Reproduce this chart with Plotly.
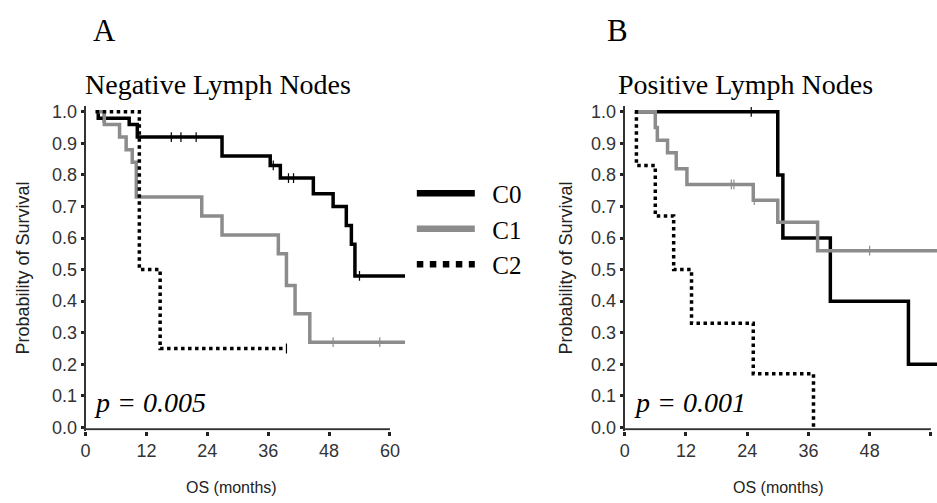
import plotly.graph_objects as go

W, H = 937, 503

# panel A: negative lymph nodes (months, survival)
a_c0_t = [2, 2.5, 8.6, 10.2, 26.9, 36.4, 38.4, 44.9, 48.8, 51.4, 52.4, 53.1, 63]
a_c0_s = [1.0, 0.98, 0.96, 0.92, 0.86, 0.83, 0.79, 0.74, 0.70, 0.64, 0.58, 0.48, 0.48]
a_c1_t = [2, 3.7, 6.7, 8.0, 9.2, 10.0, 22.9, 26.9, 38.0, 39.6, 41.3, 44.2, 63]
a_c1_s = [1.0, 0.96, 0.92, 0.88, 0.84, 0.73, 0.67, 0.61, 0.55, 0.45, 0.36, 0.27, 0.27]
a_c2_t = [2, 10.6, 14.7, 39.6]
a_c2_s = [1.0, 0.50, 0.25, 0.25]
a_c0_cens = [3.5, 16.9, 18.8, 21.8, 37.0, 40.0, 41.0, 54.0]
a_c1_cens = [48.8, 58.0]
a_c2_cens = [39.6]

# panel B: positive lymph nodes
b_c0_t = [2, 30.0, 31.0, 40.3, 55.6, 63]
b_c0_s = [1.0, 0.80, 0.60, 0.40, 0.20, 0.20]
b_c1_t = [2, 6.0, 6.4, 8.4, 10.1, 12.2, 25.2, 30.0, 37.8, 63]
b_c1_s = [1.0, 0.95, 0.91, 0.87, 0.82, 0.77, 0.72, 0.65, 0.56, 0.56]
b_c2_t = [2, 2.3, 6.0, 9.6, 13.1, 25.2, 37.0]
b_c2_s = [1.0, 0.83, 0.67, 0.50, 0.33, 0.17, 0.0]
b_c0_cens = [24.8]
b_c1_cens = [20.9, 21.4, 25.4, 48.0]

groups = ["C0", "C1", "C2"]
x_ticks = [0, 12, 24, 36, 48, 60]
y_ticks = [0.0, 0.1, 0.2, 0.3, 0.4, 0.5, 0.6, 0.7, 0.8, 0.9, 1.0]
p_values = ["p = 0.005", "p = 0.001"]
titles = ["Negative Lymph Nodes", "Positive Lymph Nodes"]
letters = ["A", "B"]

colors = ["black", "#8c8c8c", "black"]
dashes = ["solid", "solid", "dot"]
serif = "Liberation Serif"
sans = "Liberation Sans"


def at(times, surv, t):
    v = surv[0]
    for ti, si in zip(times, surv):
        if ti <= t:
            v = si
    return v


def px(x):
    return x / W


def py(y):
    return 1 - y / H


fig = go.Figure()

panels = [
    ("x", "y", [(a_c0_t, a_c0_s, a_c0_cens), (a_c1_t, a_c1_s, a_c1_cens), (a_c2_t, a_c2_s, a_c2_cens)]),
    ("x2", "y2", [(b_c0_t, b_c0_s, b_c0_cens), (b_c1_t, b_c1_s, b_c1_cens), (b_c2_t, b_c2_s, [])]),
]

for xa, ya, curves in panels:
    for i, (t, s, cens) in enumerate(curves):
        fig.add_trace(go.Scatter(x=t, y=s, mode="lines", line_shape="hv", xaxis=xa, yaxis=ya,
                                 line=dict(color=colors[i], width=3.5, dash=dashes[i]),
                                 showlegend=False, hoverinfo="skip"))
        if cens:
            fig.add_trace(go.Scatter(x=cens, y=[at(t, s, c) for c in cens], mode="markers",
                                     xaxis=xa, yaxis=ya, showlegend=False, hoverinfo="skip",
                                     marker=dict(symbol="line-ns", size=7,
                                                 line=dict(color=colors[i], width=1.2))))

# legend entries (nbsp widens the gap between line and label)
for i, g in enumerate(groups):
    fig.add_trace(go.Scatter(x=[None], y=[None], mode="lines", name="\u00a0\u00a0" + g,
                             line=dict(color=colors[i], width=6.5, dash=dashes[i])))

tickfont = dict(family=sans, size=18, color="#333333")
ydom = [py(436.2), py(104.6)]
common_x = dict(tickvals=x_ticks, ticks="outside", ticklen=4, tickwidth=3, tickcolor="#222",
                showgrid=False, zeroline=False, showline=False, tickfont=tickfont)
common_y = dict(range=[-0.01, 1.02], domain=ydom, tickvals=y_ticks, tickformat=".1f",
                ticks="outside", ticklen=3, tickwidth=3, tickcolor="#222",
                showgrid=False, zeroline=False, showline=True, linewidth=2, linecolor="#333",
                tickfont=tickfont)

fig.update_layout(
    width=W, height=H,
    margin=dict(l=0, r=0, t=0, b=0),
    plot_bgcolor="white", paper_bgcolor="white",
    xaxis=dict(range=[0, 63], domain=[px(81), px(402.3)], anchor="y", **common_x),
    yaxis=dict(anchor="x", **common_y),
    xaxis2=dict(range=[0, 61.2], domain=[px(623), 1.0], anchor="y2", **common_x),
    yaxis2=dict(anchor="x2", **common_y),
    legend=dict(x=px(409), y=py(171), xanchor="left", yanchor="top",
                font=dict(family=serif, size=25, color="black"),
                itemwidth=58, bgcolor="rgba(0,0,0,0)", tracegroupgap=0),
)

# x axis lines end at 60 months
for xa, ya in [("x", "y"), ("x2", "y2")]:
    fig.add_shape(type="line", xref=xa, yref=ya, x0=0, x1=60, y0=-0.006, y1=-0.006,
                  line=dict(color="#333", width=2))

ann = []
for k, (cx, tx) in enumerate([(100, 214), (616, 744)]):
    ann.append(dict(text=letters[k], x=px(cx), y=py(28), xref="paper", yref="paper",
                    xanchor="center", yanchor="middle", showarrow=False,
                    font=dict(family=serif, size=31, color="black")))
    ann.append(dict(text=titles[k], x=px(tx), y=py(83), xref="paper", yref="paper",
                    xanchor="center", yanchor="middle", showarrow=False,
                    font=dict(family=serif, size=28, color="black")))
for k, xl in enumerate([87, 630]):
    ann.append(dict(text="<i>" + p_values[k] + "</i>", x=px(xl), y=py(408), xref="paper",
                    yref="paper", xanchor="left", yanchor="middle", showarrow=False,
                    font=dict(family=serif, size=28, color="black")))
for k, (yx, xx) in enumerate([(18, 228), (564, 778)]):
    ann.append(dict(text="Probability of Survival", x=px(yx), y=py(270), xref="paper",
                    yref="paper", xanchor="center", yanchor="middle", textangle=-90,
                    showarrow=False, font=dict(family=sans, size=18, color="#222")))
    ann.append(dict(text="OS (months)", x=px(xx), y=py(494), xref="paper", yref="paper",
                    xanchor="center", yanchor="middle", showarrow=False,
                    font=dict(family=sans, size=16, color="#222")))
fig.update_layout(annotations=ann)

fig.write_html("out.html", config={"displayModeBar": False},
               post_script="document.body.style.margin='0';")
